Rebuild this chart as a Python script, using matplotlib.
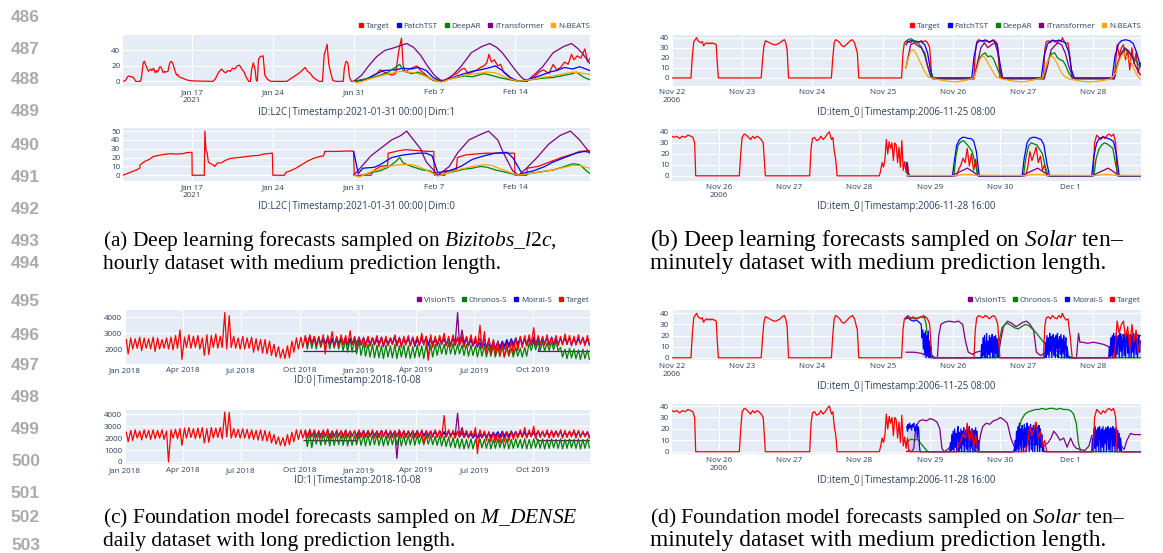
import numpy as np
import matplotlib.pyplot as plt
from matplotlib.lines import Line2D

plt.rcParams['font.family'] = ['Open Sans', 'DejaVu Sans']
plt.rcParams['mathtext.fontset'] = 'custom'
plt.rcParams['mathtext.rm'] = 'Liberation Serif'
plt.rcParams['mathtext.it'] = 'Liberation Serif:italic'

W, H = 1163, 553
BG = '#E5ECF6'
FG = '#2a3f5f'

# ---------------- data ----------------
# (a) Bizitobs_l2c, days since 2021-01-11
a_xticks = [6, 13, 20, 27, 34]
a_xlabels = ['Jan 17\n2021', 'Jan 24', 'Jan 31', 'Feb 7', 'Feb 14']

a1_target_day = [0, 0.2, 0.4, 0.5, 0.7, 0.9, 1.1, 1.5, 1.6, 1.75, 1.85, 2.0, 2.2, 2.4, 2.5, 2.65, 2.8, 2.9, 3.0, 3.2,
                 3.3, 3.5, 3.6, 3.7, 3.9, 4.05, 4.2, 4.35, 4.5, 4.65, 4.75, 4.85, 5.0, 5.2, 5.5, 5.8, 6.2, 7.8, 8.0, 8.3,
                 8.55, 8.7, 8.9, 9.1, 9.3, 9.5, 9.7, 9.9, 10.1, 10.3, 10.5, 10.7, 10.9, 11.05, 11.15, 11.3, 11.45, 11.55,
                 11.65, 11.75, 11.9, 12.15, 12.3, 12.5, 12.8, 14.2, 14.6, 15.0, 15.3, 15.6, 15.8, 16.0, 16.2, 16.5, 16.8,
                 17.0, 17.3, 17.45, 17.6, 17.7, 17.85, 18.0, 18.2, 18.5, 19.1, 19.2, 19.35, 19.5, 19.65, 19.8, 20.0,
                 20.5, 21.0, 21.5, 22.0, 22.3, 22.65, 23.0, 23.3, 23.65, 23.9, 24.15, 24.3, 24.5, 24.8, 25.15, 25.5,
                 25.8, 26.15, 26.55, 26.95, 27.3, 27.95, 28.6, 28.95, 29.3, 29.6, 29.95, 30.3, 30.7, 31.0, 31.3, 31.55,
                 31.75, 31.95, 32.2, 32.5, 32.75, 33.0, 33.3, 33.8, 34.3, 35.0, 35.6, 36.1, 36.45, 36.95, 37.3, 37.6,
                 37.95, 38.3, 38.6, 38.9, 39.1, 39.4, 39.7, 40.05, 40.3, 40.5]
a1_target_val = [0, 1, 6, 7, 6, 5, 0, 0, 5, 24, 26, 20, 13, 16, 14, 17, 11, 14, 12, 19,
                 18, 11, 13, 12, 13, 24, 26, 22, 14, 8, 9, 6, 5, 4, 2, 1, 0.5, 0, 3, 12,
                 16, 13, 11, 14, 13, 17, 16, 20, 21, 16, 12, 5, 0, 0, 15, 24, 16, 2,
                 0, 28, 32, 33, 8, 3, 0, 0, 4, 8, 11, 15, 18, 13, 11, 5, 2,
                 0, 0, 35, 42, 48, 22, 12, 1, 0, 0, 18, 26, 24, 5, 0, 0,
                 1, 2, 6, 10, 15, 12, 10, 8, 10, 38, 56, 20, 12, 16, 18, 20,
                 14, 10, 4, 1, 0, 2, 8, 10, 15, 17, 10, 12, 15, 18, 20, 24,
                 35, 25, 28, 20, 22, 12, 8, 2, 0, 0, 5, 12, 15, 10, 22, 15,
                 18, 25, 22, 35, 28, 33, 30, 42, 25, 30]
a1_patch_day = [20, 21, 22, 22.6, 23.6, 24.3, 25, 25.6, 26.3, 26.9, 27.6, 28.6, 29.6, 30.3, 31.0, 31.6, 32.3, 32.9,
                33.6, 34.3, 35.3, 36.3, 37.0, 37.6, 38.3, 39.0, 39.6, 40.5]
a1_patch_val = [0, 2, 10, 14, 15, 17, 16, 18, 14, 5, 0, 5, 10, 13, 15, 17, 20, 14, 5, 0, 3, 8, 12, 14, 18, 16, 19, 14]
a1_deepar_day = [20, 21.6, 22.3, 23, 24, 24.3, 25, 25.6, 26.3, 26.9, 27.6, 28.6, 29.6, 30.3, 31.3, 31.9, 32.6, 33.6,
                 34.3, 35.3, 36.3, 37.3, 38.3, 39.0, 39.3, 40.0, 40.5]
a1_deepar_val = [0, 5, 8, 12, 22, 14, 10, 12, 7, 2, 0, 4, 7, 6, 10, 8, 5, 2, 0, 2, 4, 5, 8, 10, 12, 5, 2]
a1_itrans_day = [20, 20.7, 21.3, 22.0, 22.7, 23.4, 24.0, 24.6, 25.2, 25.8, 26.4, 27.0, 27.5, 27.9, 28.6, 29.3, 30.2,
                 31.1, 31.8, 32.4, 32.9, 33.5, 34.0, 34.5, 35.0, 35.7, 36.4, 37.3, 38.2, 38.9, 39.4, 39.8, 40.5]
a1_itrans_val = [0, 8, 20, 32, 40, 43, 46, 49, 44, 34, 20, 8, 2, 0, 8, 19, 37, 45, 49, 44, 37, 25, 15, 6, 0, 9, 19,
                 37, 45, 49, 43, 37, 23]
a1_nbeats_day = [20, 20.3, 21.6, 22.6, 23.6, 24.3, 25.3, 26.0, 26.6, 27.3, 27.6, 28.6, 29.6, 30.6, 31.6, 32.3, 32.9,
                 33.6, 34.3, 35.3, 36.3, 37.3, 38.3, 39.0, 39.6, 40.5]
a1_nbeats_val = [0, -2, 4, 8, 12, 13, 11, 8, 4, 0, -1, 4, 8, 10, 12, 11, 7, 3, 0, 2, 5, 7, 10, 12, 11, 9]

a0_target_day = [0, 0.58, 1.16, 1.45, 1.5, 1.7, 2.0, 2.3, 2.6, 2.9, 3.5, 4.1, 4.6, 5.2, 5.5, 5.98, 6.0, 7.05, 7.1,
                 7.2, 7.3, 7.4, 7.6, 7.8, 7.95, 8.2, 8.5, 8.9, 9.3, 10.0, 10.6, 11.2, 11.8, 12.2, 12.95, 13.0, 14.0,
                 14.1, 14.5, 15.0, 15.5, 16.0, 16.5, 17.0, 17.4, 17.5, 18.5, 19.5, 20.0, 20.05, 21.5, 21.7, 22.3,
                 22.95, 23.0, 24.0, 24.5, 25.5, 26.5, 26.95, 27.0, 27.9, 28.0, 28.9, 29.0, 29.7, 30.5, 31.5, 33.0,
                 33.95, 34.0, 35.0, 35.05, 36.0, 37.0, 38.0, 39.0, 39.6, 40.5]
a0_target_val = [0, 3, 6, 8, 12, 14, 16.5, 18, 21, 22, 23.5, 24.5, 24, 24.5, 25.5, 26, 0, 0, 50,
                 28, 25, 15, 13, 12, 10, 14, 14, 17, 19, 20, 21, 22, 22.5, 24, 25, 0, 0,
                 3, 5, 8, 12, 16, 19, 21, 22, 27, 27, 27.5, 27, 0, 0, 5, 10,
                 11, 25, 28, 29, 28, 27, 27, 0, 0, 5, 6, 20, 23, 24, 25, 25,
                 25, 0, 0, 8, 10, 15, 20, 24, 27, 28]
a0_patch_day = [20, 20.4, 20.8, 21.8, 22.3, 23.3, 24.3, 25.6, 26.3, 26.8, 27.3, 28.3, 29.3, 30.3, 31.3, 32.3, 33.3,
                33.8, 34.6, 35.6, 36.6, 37.3, 38.3, 39.3, 40.0, 40.5]
a0_patch_val = [27, 2, 8, 9, 12, 20, 23, 25, 25, 22, 3, 5, 10, 18, 22, 25, 26, 20, 2, 5, 10, 15, 20, 25, 27, 26]
a0_deepar_day = [20, 20.5, 21.5, 22.3, 23.0, 23.6, 24.0, 24.3, 25.0, 26.0, 26.6, 27.3, 28.0, 29.0, 29.6, 30.3, 31.0,
                 31.6, 32.3, 33.0, 33.6, 34.3, 35.3, 36.3, 37.3, 38.3, 39.0, 39.6, 40.2, 40.5]
a0_deepar_val = [0, -1, 3, 5, 9, 15, 20, 14, 10, 6, 5, 0, 2, 5, 7, 8, 10, 9, 6, 4, 2, 0, 2, 4, 6, 10, 13, 12, 5, 2]
a0_itrans_day = [20, 20.7, 21.5, 22.3, 23.3, 24.1, 24.6, 25.2, 25.8, 26.3, 27.0, 27.3, 28.3, 29.0, 30.0, 30.8, 31.7,
                 32.5, 33.0, 33.8, 34.3, 35.0, 35.9, 36.9, 37.9, 38.8, 39.6, 40.5]
a0_itrans_val = [0, 10, 22, 30, 40, 45, 50, 40, 30, 15, 5, 0, 10, 25, 40, 45, 50, 40, 25, 5, 0, 8, 20, 35, 45, 50,
                 40, 25]
a0_nbeats_day = [20, 20.5, 21.5, 22.3, 23.0, 24.0, 25.0, 25.6, 26.3, 27.0, 27.3, 28.3, 29.3, 30.3, 31.3, 32.0, 32.6,
                 33.6, 34.3, 35.3, 36.3, 37.3, 38.3, 39.0, 39.6, 40.5]
a0_nbeats_val = [0, -2, 4, 7, 10, 12, 12, 10, 6, 1, -1, 3, 7, 10, 12, 11, 8, 3, 0, 2, 4, 6, 9, 11, 11, 8]

# (b)/(d) Solar, days since 2006-11-22 00:00
s1_xticks = [0, 1, 2, 3, 4, 5, 6]
s1_xlabels = ['Nov 22\n2006', 'Nov 23', 'Nov 24', 'Nov 25', 'Nov 26', 'Nov 27', 'Nov 28']
s2_xticks = [4, 5, 6, 7, 8, 9]
s2_xlabels = ['Nov 26\n2006', 'Nov 27', 'Nov 28', 'Nov 29', 'Nov 30', 'Dec 1']

s1_target_day = [0, 0.27, 0.29, 0.31, 0.33, 0.35, 0.37, 0.39, 0.41, 0.43, 0.45, 0.47, 0.49, 0.51, 0.53, 0.55, 0.57,
                 0.59, 0.61, 0.63, 0.645, 0.66,
                 1.27, 1.29, 1.31, 1.33, 1.36, 1.39, 1.42, 1.45, 1.48, 1.51, 1.54, 1.57, 1.60, 1.62, 1.64, 1.66,
                 2.27, 2.29, 2.31, 2.33, 2.36, 2.39, 2.42, 2.45, 2.48, 2.51, 2.54, 2.57, 2.60, 2.62, 2.64, 2.66,
                 3.27, 3.29, 3.31, 3.34, 3.37, 3.40, 3.43, 3.46, 3.49, 3.52, 3.55, 3.58, 3.61, 3.64, 3.67, 3.70,
                 4.30, 4.32, 4.34, 4.37, 4.40, 4.43, 4.46, 4.49, 4.52, 4.55, 4.58, 4.61, 4.64, 4.67,
                 5.29, 5.31, 5.33, 5.36, 5.39, 5.42, 5.45, 5.48, 5.51, 5.54, 5.56, 5.58, 5.61, 5.64, 5.67, 5.70,
                 6.30, 6.32, 6.34, 6.37, 6.40, 6.43, 6.46, 6.49, 6.52, 6.55, 6.58, 6.61, 6.64, 6.67]
s1_target_val = [0, 0, 22, 36, 38, 40, 37, 36, 35, 36, 32, 34, 35, 34, 35, 34, 35, 34, 34, 33, 15, 0,
                 0, 18, 32, 37, 36, 35, 34, 33, 33, 34, 35, 37, 38, 35, 28, 0,
                 0, 20, 35, 38, 37, 35, 32, 31, 33, 35, 37, 38, 35, 30, 25, 0,
                 0, 25, 35, 37, 36, 35, 37, 36, 35, 36, 37, 36, 37, 35, 30, 0,
                 0, 25, 36, 38, 37, 36, 38, 37, 35, 37, 38, 36, 30, 0,
                 0, 28, 36, 37, 35, 38, 36, 35, 38, 36, 40, 37, 34, 35, 20, 0,
                 0, 15, 33, 22, 30, 33, 18, 28, 8, 30, 14, 25, 5, 15]

s2_target_day = [3.333, 3.36, 3.40, 3.44, 3.48, 3.52, 3.56, 3.60, 3.63, 3.655, 3.67,
                 4.29, 4.31, 4.33, 4.36, 4.39, 4.42, 4.45, 4.48, 4.51, 4.54, 4.57, 4.60, 4.63, 4.66,
                 5.29, 5.31, 5.33, 5.36, 5.39, 5.42, 5.45, 5.48, 5.51, 5.54, 5.57, 5.60, 5.62, 5.64, 5.66, 5.68,
                 6.28, 6.30, 6.32, 6.34, 6.36, 6.38, 6.40, 6.42, 6.44, 6.46, 6.48, 6.50, 6.52, 6.54, 6.56, 6.58,
                 6.60, 6.62, 6.64, 6.66, 6.68, 6.70, 6.72,
                 7.38, 7.41, 7.44, 7.47, 7.50, 7.53, 7.56, 7.59, 7.62, 7.65, 7.68,
                 8.36, 8.39, 8.42, 8.45, 8.48, 8.51, 8.54, 8.57, 8.60, 8.63, 8.66,
                 9.32, 9.34, 9.37, 9.40, 9.43, 9.46, 9.49, 9.52, 9.55, 9.58, 9.61, 9.64, 9.66,
                 10.0]
s2_target_val = [36, 35, 36, 34, 36, 35, 37, 36, 35, 30, 0,
                 0, 20, 35, 38, 37, 35, 33, 36, 34, 36, 35, 33, 30, 0,
                 0, 25, 34, 35, 32, 33, 36, 33, 35, 38, 40, 33, 35, 22, 15, 0,
                 0, 5, 12, 8, 15, 33, 20, 31, 25, 30, 14, 30, 28, 12, 26, 8,
                 32, 5, 13, 3, 12, 0, 0,
                 0, 6, 10, 16, 12, 25, 9, 20, 5, 15, 0,
                 0, 8, 22, 14, 20, 26, 12, 18, 5, 10, 0,
                 0, 30, 37, 35, 33, 36, 34, 37, 38, 36, 38, 30, 0,
                 0]

b1_patch_day = [3.333, 3.36, 3.40, 3.45, 3.50, 3.55, 3.60, 3.64, 3.68, 3.72, 4.27, 4.30, 4.34, 4.38, 4.45, 4.52,
                4.58, 4.63, 4.67, 4.71, 5.26, 5.30, 5.35, 5.40, 5.47, 5.54, 5.60, 5.65, 5.69, 5.73, 6.27, 6.31,
                6.36, 6.40, 6.46, 6.52, 6.57, 6.62, 6.67]
b1_patch_val = [33, 36, 37, 37, 36, 36, 33, 25, 8, 0, 0, 20, 34, 37, 37, 36, 37, 34, 15, 0, 0, 22, 34, 37, 37, 37,
                35, 26, 8, 0, 0, 22, 34, 37, 38, 37, 34, 25, 12]
b1_deepar_day = [3.333, 3.36, 3.40, 3.45, 3.50, 3.55, 3.60, 3.64, 3.68, 3.72, 4.30, 4.34, 4.38, 4.42, 4.46, 4.50,
                 4.54, 4.58, 4.62, 4.66, 4.70, 5.29, 5.33, 5.37, 5.41, 5.45, 5.49, 5.53, 5.57, 5.61, 5.65, 5.70,
                 6.30, 6.34, 6.38, 6.42, 6.46, 6.50, 6.54, 6.58, 6.62, 6.67]
b1_deepar_val = [36, 38, 39, 37, 35, 31, 22, 12, 4, 0, 0, 10, 20, 23, 25, 21, 22, 19, 12, 5, 0, 0, 12, 20, 24, 25,
                 20, 18, 17, 12, 5, 0, 0, 12, 21, 25, 28, 26, 22, 20, 16, 11]
b1_itrans_day = [3.333, 3.36, 3.40, 3.45, 3.50, 3.55, 3.60, 3.64, 3.68, 3.72, 4.30, 4.35, 4.40, 4.45, 4.50, 4.55,
                 4.60, 4.64, 4.68, 4.72, 5.30, 5.35, 5.40, 5.45, 5.50, 5.55, 5.60, 5.65, 5.70, 5.74, 6.30, 6.35,
                 6.40, 6.45, 6.50, 6.55, 6.60, 6.67]
b1_itrans_val = [10, 20, 33, 35, 32, 30, 25, 12, 2, -1, -1, 15, 30, 35, 30, 33, 35, 25, 5, -1, -1, 12, 28, 32, 35,
                 33, 25, 12, 2, -1, -1, 15, 25, 30, 27, 22, 12, 3]
b1_nbeats_day = [3.333, 3.36, 3.40, 3.44, 3.48, 3.52, 3.56, 3.60, 3.65, 3.75, 3.90, 4.05, 4.20, 4.30, 4.34, 4.38,
                 4.42, 4.46, 4.50, 4.54, 4.58, 4.62, 4.70, 4.85, 5.00, 5.15, 5.28, 5.32, 5.36, 5.40, 5.44, 5.48,
                 5.52, 5.56, 5.60, 5.66, 5.80, 5.95, 6.10, 6.25, 6.32, 6.36, 6.40, 6.44, 6.48, 6.52, 6.56, 6.60,
                 6.64, 6.67]
b1_nbeats_val = [10, 18, 27, 28, 24, 18, 12, 6, 1, -1, -3, -4, -2, 0, 8, 18, 22, 20, 15, 10, 5, 1, -1, -3, -4, -2,
                 0, 10, 18, 22, 20, 15, 9, 4, 1, -1, -3, -4, -3, -1, 5, 15, 22, 25, 20, 18, 12, 6, 1, -1]

b2_patch_day = [6.667, 6.69, 6.72, 7.32, 7.35, 7.38, 7.42, 7.46, 7.50, 7.54, 7.58, 7.62, 7.66, 7.70, 8.31, 8.34,
                8.38, 8.42, 8.46, 8.50, 8.54, 8.58, 8.62, 8.66, 8.70, 9.30, 9.33, 9.37, 9.41, 9.45, 9.49, 9.53,
                9.57, 9.61, 9.65, 9.69, 10.0]
b2_patch_val = [12, 2, 0, 0, 15, 28, 33, 35, 35, 34, 34, 32, 22, 0, 0, 16, 30, 34, 35, 35, 34, 33, 28, 12, 0, 0,
                18, 30, 34, 35, 35, 34, 33, 31, 20, 0, 0]
b2_deepar_day = [6.667, 6.70, 7.34, 7.37, 7.40, 7.44, 7.48, 7.52, 7.56, 7.60, 7.64, 7.68, 8.33, 8.36, 8.40, 8.44,
                 8.48, 8.52, 8.56, 8.60, 8.64, 8.68, 9.33, 9.36, 9.40, 9.44, 9.48, 9.52, 9.56, 9.60, 9.64, 9.68, 10.0]
b2_deepar_val = [3, 0, 0, 18, 28, 31, 32, 29, 26, 22, 12, 0, 0, 15, 27, 30, 29, 28, 24, 20, 8, 0, 0, 15, 24, 28, 30,
                 29, 27, 25, 10, 0, 0]
b2_itrans_day = [6.667, 7.30, 7.40, 7.50, 7.53, 7.58, 7.65, 7.70, 8.30, 8.40, 8.50, 8.53, 8.58, 8.65, 8.70, 9.30,
                 9.40, 9.50, 9.53, 9.58, 9.65, 9.70, 10.0]
b2_itrans_val = [0, 0, 3, 6, 7, 5, 2, 0, 0, 3, 6, 7, 5, 2, 0, 0, 3, 6, 7, 5, 2, 0, 0]
b2_nbeats_day = [6.667, 7.35, 7.45, 7.55, 7.65, 8.35, 8.45, 8.55, 8.65, 9.35, 9.45, 9.55, 9.65, 10.0]
b2_nbeats_val = [0.3, 0.3, 1, 1.2, 0.5, 0.3, 1, 1.2, 0.5, 0.3, 1, 1.2, 0.5, 0.3]

d1_chronos_day = [3.333, 3.36, 3.40, 3.45, 3.50, 3.55, 3.59, 3.62, 3.65, 3.68, 3.72, 4.62, 4.66, 4.70, 4.74, 4.78,
                  4.83, 4.88, 4.93, 4.98, 5.03, 5.08, 5.13, 5.18, 5.23, 5.28, 5.33, 5.38, 5.43, 5.48, 5.53, 6.68]
d1_chronos_val = [36, 38, 36, 35, 36, 37, 38, 30, 12, 3, 0, 0, 15, 27, 30, 31, 29, 27, 26, 28, 30, 29, 26, 23, 19,
                  15, 12, 8, 5, 2, 0, 0]
d1_moirai_day = [3.333, 3.36, 3.40, 3.44, 3.48, 3.52, 3.55]
d1_moirai_val = [35, 36, 34, 33, 34, 32, 30]
d1_burst_start = [3.56, 4.40, 5.31, 6.22]
d1_burst_vals = [
    [18, 25, 8, 22, 3, 24, 0, 20, 2, 24, 0, 15, 0, 10, 0, 2, 0],
    [0, 12, 0, 18, 2, 20, 0, 8, 22, 0, 15, 3, 20, 0, 18, 5, 21, 0, 12, 19, 0, 20, 4, 17, 0, 10, 0],
    [0, 14, 0, 20, 3, 18, 0, 22, 6, 19, 0, 16, 21, 2, 18, 0, 20, 8, 22, 0, 15, 19, 3, 21, 0, 17, 5, 20, 0, 12,
     18, 0, 10, 2, 0],
    [0, 10, 0, 18, 2, 20, 0, 22, 5, 19, 0, 21, 3, 18, 20, 0, 22, 6, 19, 0, 16, 21, 2, 20, 0, 18, 22, 4, 20, 0,
     17, 21, 0, 19, 5, 22, 0, 18, 20, 3, 21, 0, 16, 20, 5, 15],
]
d1_vision_day = [3.333, 3.45, 3.55, 3.62, 3.70, 3.78, 3.80, 3.83, 3.88, 3.95, 4.02, 4.08, 4.14, 4.18, 4.22, 4.28,
                 4.33, 4.40, 4.48, 4.56, 4.62, 4.65, 4.68, 4.72, 4.78, 4.84, 4.90, 4.95, 5.00, 5.05, 5.10, 5.15,
                 5.19, 5.25, 5.32, 5.40, 5.48, 5.55, 5.62, 5.70, 5.76, 5.79, 5.81, 5.85, 5.92, 6.00, 6.08, 6.15,
                 6.22, 6.28, 6.33, 6.38, 6.45, 6.52, 6.60, 6.67]
d1_vision_val = [5, 5, 4, 2, 1, 0, 20, 30, 32, 33, 32, 33, 30, 15, 5, 3, 5, 6, 7, 6, 6, 2, 15, 28, 33, 31, 28, 30,
                 32, 33, 30, 25, 5, 2, 5, 7, 6, 5, 2, 0, 0, 22, 14, 14, 13, 14, 13, 12, 10, 5, 15, 20, 21, 20,
                 21, 20]

d2_chronos_day = [6.667, 6.70, 6.74, 6.78, 6.82, 6.86, 6.90, 6.94, 6.97, 8.18, 8.22, 8.26, 8.30, 8.35, 8.40, 8.45,
                  8.50, 8.55, 8.60, 8.65, 8.70, 8.75, 8.80, 8.85, 8.90, 8.95, 9.00, 9.04, 9.08, 9.11, 9.14, 10.0]
d2_chronos_val = [8, 10, 11, 10, 11, 8, 5, 2, 0, 0, 5, 18, 28, 33, 35, 36, 37, 37, 38, 37, 38, 38, 37, 38, 37, 37,
                  36, 33, 25, 8, 0, 0]
d2_burst_start = [6.67, 7.28, 8.20, 9.30]
d2_burst_vals = [
    [22, 18, 24, 20, 25, 21, 23, 19, 24, 22, 25, 20, 18, 22, 24, 12, 22, 20, 5, 0],
    [0, 8, 0, 15, 2, 18, 0, 20, 4, 16, 0, 19, 22, 0, 17, 3, 20, 0, 18, 6, 21, 0, 15, 19, 2, 20, 0, 17, 22, 0,
     18, 5, 20, 0, 16, 19, 0, 21, 3, 18, 0, 10, 0],
    [0, 10, 0, 18, 3, 22, 0, 25, 5, 20, 0, 23, 18, 0, 24, 4, 21, 0, 25, 8, 22, 0, 19, 24, 2, 21, 0, 23, 20, 0,
     25, 6, 22, 0, 18, 23, 0, 20, 4, 15, 0, 8, 0],
    [0, 12, 0, 20, 3, 22, 0, 19, 5, 21, 0, 22, 18, 0, 20, 4, 22, 0, 19, 7, 21, 0, 18, 22, 2, 20, 0, 21, 19, 0,
     22, 5, 20, 0, 17, 21, 0, 19, 3, 16, 0, 12, 2, 0],
]
d2_moirai_end_day = [10.0]
d2_moirai_end_val = [0]
d2_vision_day = [6.667, 6.70, 6.74, 6.77, 6.80, 6.85, 6.90, 6.95, 7.00, 7.05, 7.10, 7.14, 7.17, 7.20, 7.25, 7.30,
                 7.35, 7.40, 7.45, 7.50, 7.56, 7.62, 7.68, 7.72, 7.75, 7.80, 7.85, 7.90, 7.95, 8.00, 8.05, 8.10,
                 8.15, 8.20, 8.25, 8.32, 8.40, 8.48, 8.55, 8.62, 8.68, 8.72, 8.76, 8.80, 8.85, 8.90, 8.95, 9.00,
                 9.04, 9.08, 9.14, 9.20, 9.26, 9.30, 9.38, 9.46, 9.54, 9.62, 9.68, 9.72, 9.76, 9.80, 9.85, 9.90,
                 9.95, 10.0]
d2_vision_val = [0, 1, 0, 3, 22, 27, 28, 27, 29, 28, 26, 20, 3, 0, 2, 5, 7, 6, 7, 5, 5, 2, 0, 15, 22, 25, 24, 27,
                 28, 30, 28, 25, 12, 4, 2, 5, 7, 6, 7, 5, 8, 12, 18, 15, 10, 12, 4, 12, 6, 3, 2, 1, 5, 14, 15, 14,
                 13, 14, 12, 5, 2, 10, 16, 15, 15, 15]

# (c) M_DENSE daily, days since 2018-01-01; weekly highs / lows
c_xticks = [0, 90, 181, 273, 365, 455, 546, 638]
c_xlabels = ['Jan 2018', 'Apr 2018', 'Jul 2018', 'Oct 2018', 'Jan 2019', 'Apr 2019', 'Jul 2019', 'Oct 2019']
c_forecast_week = 40
c_vision_week = 52

c0_target_hi = [2600, 2700, 2650, 2750, 2700, 2650, 2750, 2700, 2600, 2700, 2750, 2850, 3200,
                2750, 2900, 2800, 2850, 2700, 2900, 2850, 2950, 2800, 4300, 4100, 2800, 2700,
                2800, 2700, 2750, 2650, 2600, 2600, 2500, 2300, 2150, 2000, 2200, 2500, 2700, 2750,
                2850, 2900, 2800, 2750, 2900, 2850, 3100, 2800, 2900, 2850, 3150, 2800, 2750,
                2750, 2800, 2700, 2850, 2750, 2800, 2700, 2900, 2750, 2800, 2850, 2700,
                2800, 3000, 2750, 2900, 2800, 2850, 3000, 2800, 2900, 2750, 2850, 2800, 2900,
                2800, 3500, 3100, 2700, 2600, 2500, 2400, 2300, 2500, 2700, 2800, 2850, 2900,
                3350, 2850, 2800, 2900, 2750, 2850, 2800, 2950, 2850, 2800, 2900, 2750, 2850]
c0_target_lo = [1700, 2000, 2050, 1900, 2050, 2000, 1850, 2000, 2050, 2000, 1950, 2050, 1350,
                2100, 2050, 2100, 2000, 1600, 1650, 2100, 2050, 2100, 2000, 2100, 2050, 2000,
                2000, 2050, 1800, 1900, 1750, 1700, 1600, 1500, 1450, 1400, 1450, 1800, 2000, 2100,
                2200, 2300, 2250, 2200, 1700, 2300, 2200, 2150, 2250, 2200, 2300, 2200, 2250,
                2100, 2200, 2300, 2150, 2250, 2200, 2300, 2200, 2100, 2250, 2200, 2300,
                2200, 2250, 1300, 2100, 2200, 2300, 2200, 2150, 2250, 2200, 2100, 2200, 2250,
                2100, 2000, 1800, 1700, 1600, 1550, 1500, 1600, 1700, 1900, 2100, 2200, 2250,
                2200, 2300, 2250, 2200, 2300, 2200, 2250, 2300, 2200, 2250, 2300, 2200, 2300]
c0_vision_flat = 1850
c0_vision_flat_days = [280, 361, 646, 727]
c0_vision_hi = [2700, 2650, 2750, 2700, 2600, 2750, 2700, 2650, 2800, 2700, 2650, 2750, 2700, 2600, 2750, 2800,
                2700, 2650, 2750, 2700, 2650, 2800, 4300, 3200, 2750, 2700, 2650, 2700, 2650, 2600, 2550, 2500,
                2450, 2500, 2600, 2650, 2700, 2650, 2700, 2650, 2700]
c0_vision_lo = [2250, 2300, 2200, 2250, 2300, 2150, 2250, 2300, 2200, 2250, 2300, 2200, 2150, 2250, 2300, 2200,
                2250, 2200, 2300, 2250, 2200, 2250, 2300, 2400, 2250, 2200, 2150, 2200, 2100, 2050, 2000, 1950,
                2000, 2100, 2150, 2200, 2250, 2200, 2250, 2200, 2250]
c0_chronos_hi = [2800, 2800, 2750, 2800, 2700, 2750, 2700, 2650, 2650, 2600, 2700, 2650, 2500, 2400, 2300, 2300,
                 2250, 2200, 2250, 2200, 2300, 2200, 2250, 2200, 2150, 2250, 2200, 2300, 2250, 2300, 2350, 2300,
                 2400, 2350, 2300, 2250, 2300, 2250, 2200, 2250, 2200, 2150, 2200, 2100, 2150, 2100, 2050, 2100,
                 2050, 2100, 2400, 2500, 2450, 2500, 2400, 2450, 2500, 2100, 2000, 2050, 2000, 1950, 2000, 1950]
c0_chronos_lo = [2000, 2050, 2000, 2100, 1950, 2000, 2050, 2000, 1900, 1800, 1800, 1700, 1600, 1550, 1500, 1450,
                 1450, 1400, 1500, 1450, 1400, 1500, 1450, 1400, 1450, 1500, 1400, 1450, 1500, 1600, 1700, 1650,
                 1700, 1650, 1700, 1600, 1550, 1600, 1500, 1550, 1500, 1550, 1500, 1550, 1500, 1550, 1500, 1550,
                 1500, 1550, 1900, 1950, 1900, 1850, 1900, 1950, 1900, 1500, 1400, 1450, 1400, 1350, 1400, 1350]
c0_moirai_hi = [2750, 2800, 2750, 2700, 2750, 2700, 2650, 2700, 2750, 2700, 2650, 2700, 2750, 2700, 2650, 2700,
                2750, 2700, 2650, 2700, 2750, 2700, 2650, 2700, 2750, 2700, 2650, 2700, 2750, 2700, 2650, 2700,
                2650, 2700, 2650, 2600, 2650, 2600, 2500, 2400, 2350, 2300, 2350, 2400, 2500, 2600, 2650, 2700,
                2700, 2650, 2700, 2750, 2700, 2650, 2700, 2750, 2700, 2650, 2700, 2750, 2700, 2650, 2700, 2650]
c0_moirai_lo = [2300, 2350, 2250, 2300, 2350, 2300, 2250, 2350, 2300, 2250, 2300, 2350, 2300, 2250, 2300, 2350,
                2300, 2250, 2300, 2350, 2300, 2250, 2350, 2300, 2250, 2300, 2350, 2300, 2250, 2300, 2350, 2300,
                2300, 2250, 2300, 2250, 2200, 2200, 2150, 2100, 2100, 2050, 2100, 2150, 2200, 2250, 2300, 2300,
                2300, 2350, 2300, 2250, 2300, 2350, 2300, 2250, 2300, 2350, 2300, 2250, 2300, 2350, 2300, 2250]

c1_target_hi = [2500, 2650, 2700, 2600, 2700, 2650, 2700, 2650, 2700, 2600, 2700, 2750, 2800,
                2850, 2900, 2800, 2850, 2900, 2800, 2900, 2850, 2900, 4200, 4150, 2800, 2750,
                2800, 2750, 2700, 2650, 2700, 2650, 2550, 2300, 2100, 2050, 2300, 2500, 2700, 2700,
                2700, 2750, 2700, 2650, 2700, 2750, 2600, 2700, 2650, 2700, 2600, 2650, 2700,
                2600, 2650, 2700, 2600, 2650, 2700, 2650, 2600, 2700, 2650, 2600, 2650,
                2600, 2700, 2650, 2600, 2700, 2650, 3900, 2700, 2650, 2600, 2700, 2650, 2600,
                2900, 2700, 2600, 2550, 2500, 2400, 2450, 2500, 2600, 2550, 2700, 2900, 2700,
                3000, 2650, 2600, 2700, 2650, 2600, 2700, 2650, 2600, 2700, 2650, 2600, 2500]
c1_target_lo = [1700, 1800, 2000, 1850, 2000, 1900, 1950, 2000, 1900, 0, 2000, 1950, 1400,
                2000, 2050, 1950, 2000, 1600, 1650, 2000, 2050, 1950, 2100, 2000, 2050, 2000,
                2000, 1950, 1900, 1850, 1800, 1750, 1600, 1500, 1400, 1350, 1450, 1700, 1900, 2000,
                2000, 2100, 2050, 2000, 2100, 1900, 2050, 2100, 2000, 2050, 2100, 2000, 2050,
                2050, 2100, 2000, 2050, 2100, 2000, 2050, 2100, 2000, 2050, 2100, 2000,
                2050, 1500, 2000, 2100, 2050, 2000, 2100, 2050, 2000, 2100, 2050, 2000, 2100,
                700, 2000, 1800, 1700, 1650, 1600, 1700, 1750, 1900, 2000, 2050, 2000, 2100,
                2000, 2050, 2100, 2000, 2050, 2100, 2000, 2050, 2100, 2000, 2050, 2100, 2000]
c1_vision_flat = 1800
c1_vision_flat_days = [280, 363, 645, 727]
c1_vision_hi = [2550, 2500, 2600, 2550, 2500, 2600, 2550, 2500, 2600, 2550, 2500, 2600, 2550, 2500, 2600, 2550,
                2500, 2600, 2550, 2500, 2600, 2550, 4100, 2900, 2600, 2550, 2500, 2600, 2550, 2500, 2450, 2400,
                2450, 2500, 2550, 2500, 2550, 2500, 2550, 2500]
c1_vision_lo = [2150, 2100, 2200, 2150, 2100, 2200, 2150, 2100, 300, 2150, 2100, 2200, 2150, 2100, 2200, 2150,
                2100, 2200, 2150, 2100, 2200, 2150, 2200, 2250, 2150, 2100, 2050, 2100, 2050, 2000, 1950, 2000,
                2050, 2100, 2150, 2100, 2150, 2100, 2150, 2100]
c1_chronos_hi = [2500, 2450, 2400, 2450, 2400, 2350, 2400, 2350, 2300, 2350, 2300, 2250, 2300, 2250, 2300, 2250,
                 2300, 2250, 2200, 2250, 2300, 2250, 2200, 2250, 2300, 2250, 2200, 2250, 2200, 2150, 2200, 2150,
                 2100, 2050, 2000, 1950, 1900, 1950, 1900, 1950, 1900, 1950, 1900, 1950, 1900, 1950, 1900, 1950,
                 1900, 1950, 1900, 1950, 1900, 1950, 1900, 1950, 1900, 1950, 1900, 1950, 1900, 1950, 1900, 1950]
c1_chronos_lo = [1300, 1200, 1500, 1400, 1450, 1350, 1400, 1450, 1400, 1350, 1400, 1450, 1400, 1350, 1400, 1450,
                 1400, 1350, 1400, 1450, 1400, 1350, 1400, 1450, 1400, 1500, 1450, 1500, 1450, 1400, 1350, 1300,
                 1250, 1200, 1150, 1100, 1150, 1100, 1150, 1200, 1150, 1100, 1150, 1200, 1150, 1100, 1150, 1200,
                 1150, 1100, 1150, 1200, 1150, 1100, 1150, 1200, 1150, 1100, 1150, 1200, 1150, 1100, 1150, 1200]
c1_moirai_hi = [2600, 2650, 2600, 2550, 2600, 2650, 2600, 2550, 2600, 2650, 2600, 2550, 2600, 2650, 2600, 2550,
                2600, 2650, 2600, 2550, 2600, 2650, 2600, 2550, 2600, 2650, 2600, 2550, 2600, 2650, 2600, 2550,
                2600, 2550, 2500, 2450, 2400, 2350, 2300, 2300, 2350, 2400, 2500, 2550, 2600, 2550, 2600, 2550,
                2600, 2550, 2500, 2550, 2600, 2550, 2500, 2550, 2600, 2550, 2500, 2550, 2600, 2550, 2500, 2550]
c1_moirai_lo = [2200, 2150, 2200, 2250, 2200, 2150, 2200, 2250, 2200, 2150, 2200, 2250, 2200, 2150, 2200, 2250,
                2200, 2150, 2200, 2250, 2200, 2150, 2200, 2250, 2200, 2150, 2200, 2250, 2200, 2150, 2200, 2250,
                2200, 2150, 2100, 2050, 2050, 2000, 2000, 2050, 2100, 2150, 2200, 2150, 2200, 2150, 2200, 2150,
                2200, 2150, 2200, 2250, 2200, 2150, 2200, 2250, 2200, 2150, 2200, 2250, 2200, 2150, 2200, 2150]

dl_names = ['Target', 'PatchTST', 'DeepAR', 'iTransformer', 'N-BEATS']
dl_colors = ['red', 'blue', 'green', 'purple', 'orange']
fm_names = ['VisionTS', 'Chronos-S', 'Moirai-S', 'Target']
fm_colors = ['purple', 'green', 'blue', 'red']

titles = {
    'a1': 'ID:L2C|Timestamp:2021-01-31 00:00|Dim:1',
    'a0': 'ID:L2C|Timestamp:2021-01-31 00:00|Dim:0',
    'b1': 'ID:item_0|Timestamp:2006-11-25 08:00',
    'b2': 'ID:item_0|Timestamp:2006-11-28 16:00',
    'c0': 'ID:0|Timestamp:2018-10-08',
    'c1': 'ID:1|Timestamp:2018-10-08',
}
# x, y, font size, text
captions = [
    (103, 241, 15.5, r'(a) Deep learning forecasts sampled on $\mathit{Bizitobs\_l2c}$,'),
    (103, 264, 15.5, 'hourly dataset with medium prediction length.'),
    (650, 241, 16.9, r'(b) Deep learning forecasts sampled on $\mathit{Solar}$ ten–'),
    (650, 264, 16.9, 'minutely dataset with medium prediction length.'),
    (103, 518, 15.5, r'(c) Foundation model forecasts sampled on $\mathit{M\_DENSE}$'),
    (103, 541, 15.5, 'daily dataset with long prediction length.'),
    (650, 518, 15.7, r'(d) Foundation model forecasts sampled on $\mathit{Solar}$ ten–'),
    (650, 541, 16.9, 'minutely dataset with medium prediction length.'),
]
line_numbers = list(range(486, 504))
line_y = [18, 49, 80, 112, 145, 177, 209, 241, 264, 302, 335, 366, 398, 430, 462, 494, 518, 545]


# ---------------- helpers ----------------
def weekly(first_week, hi, lo):
    day, val = [], []
    for i in range(len(hi)):
        w = first_week + i
        day += [7 * w + 2, 7 * w + 5]
        val += [hi[i], lo[i]]
    return day, val


def bursts(starts, blocks, step=0.01):
    day, val = [], []
    for s, b in zip(starts, blocks):
        day += list(s + step * np.arange(len(b)))
        val += list(b)
    return day, val


def vision(flat, flat_days, hi, lo):
    d, v = weekly(c_vision_week, hi, lo)
    return flat_days[:2] + d + flat_days[2:], [flat, flat] + v + [flat, flat]


fig = plt.figure(figsize=(W / 100, H / 100), dpi=100)


def px(x0, y0, x1, y1):
    return [x0 / W, 1 - y1 / H, (x1 - x0) / W, (y1 - y0) / H]


def panel(rect, series, xlim, ylim, yticks, xticks, xlabels, vgrid, title, title_y):
    ax = fig.add_axes(px(*rect))
    ax.set_facecolor(BG)
    for (d, v), c in series:
        ax.plot(d, v, color=c, lw=0.9)
    ax.set_xlim(xlim)
    ax.set_ylim(ylim)
    ax.set_yticks(yticks)
    ax.set_yticklabels([str(t) for t in yticks])
    ax.set_xticks(xticks)
    ax.set_xticklabels(xlabels, linespacing=1.15)
    ax.tick_params(length=0, labelsize=5.8, labelcolor=FG, pad=2)
    for s in ax.spines.values():
        s.set_visible(False)
    ax.grid(axis='y', color='white', lw=0.8)
    ax.grid(axis='x', color='white', lw=0.8, visible=vgrid)
    ax.set_axisbelow(True)
    fig.text((rect[0] + rect[2]) / 2 / W, 1 - title_y / H, title, ha='center', va='center',
             fontsize=6.9, color=FG)
    return ax


def legend(names, colors, right, y):
    handles = [Line2D([], [], ls='none', marker='s', ms=2.2, color=c) for c in colors]
    fig.legend(handles, names, loc='center right', bbox_to_anchor=(right / W, 1 - y / H),
               ncol=len(names), frameon=False, fontsize=5.8, labelcolor=FG,
               handlelength=0.5, handletextpad=0.35, columnspacing=0.9,
               borderpad=0, borderaxespad=0)


# ---------------- (a) ----------------
panel((123, 35, 590, 86),
      [((a1_target_day, a1_target_val), 'red'), ((a1_patch_day, a1_patch_val), 'blue'),
       ((a1_deepar_day, a1_deepar_val), 'green'), ((a1_itrans_day, a1_itrans_val), 'purple'),
       ((a1_nbeats_day, a1_nbeats_val), 'orange')],
      (0, 40.5), (-6, 60), [0, 20, 40], a_xticks, a_xlabels, False, titles['a1'], 112)
panel((123, 128, 590, 181),
      [((a0_target_day, a0_target_val), 'red'), ((a0_patch_day, a0_patch_val), 'blue'),
       ((a0_deepar_day, a0_deepar_val), 'green'), ((a0_itrans_day, a0_itrans_val), 'purple'),
       ((a0_nbeats_day, a0_nbeats_val), 'orange')],
      (0, 40.5), (-6.5, 53.5), [0, 10, 20, 30, 40, 50], a_xticks, a_xlabels, True, titles['a0'], 207)
legend(dl_names, dl_colors, 590, 26)

# ---------------- (b) ----------------
panel((672, 35, 1141, 86),
      [((s1_target_day, s1_target_val), 'red'), ((b1_patch_day, b1_patch_val), 'blue'),
       ((b1_deepar_day, b1_deepar_val), 'green'), ((b1_itrans_day, b1_itrans_val), 'purple'),
       ((b1_nbeats_day, b1_nbeats_val), 'orange')],
      (0, 6.68), (-8, 42.7), [0, 10, 20, 30, 40], s1_xticks, s1_xlabels, False, titles['b1'], 112)
panel((672, 129, 1141, 181),
      [((s2_target_day, s2_target_val), 'red'), ((b2_patch_day, b2_patch_val), 'blue'),
       ((b2_deepar_day, b2_deepar_val), 'green'), ((b2_itrans_day, b2_itrans_val), 'purple'),
       ((b2_nbeats_day, b2_nbeats_val), 'orange')],
      (3.333, 10.0), (-4.7, 42.6), [0, 10, 20, 30, 40], s2_xticks, s2_xlabels, True, titles['b2'], 207)
legend(dl_names, dl_colors, 1141, 26)

# ---------------- (c) ----------------
panel((125, 310, 590, 364),
      [(vision(c0_vision_flat, c0_vision_flat_days, c0_vision_hi, c0_vision_lo), 'purple'),
       (weekly(c_forecast_week, c0_chronos_hi, c0_chronos_lo), 'green'),
       (weekly(c_forecast_week, c0_moirai_hi, c0_moirai_lo), 'blue'),
       (weekly(0, c0_target_hi, c0_target_lo), 'red')],
      (0, 727), (1060, 4460), [2000, 3000, 4000], c_xticks, c_xlabels, False, titles['c0'], 380)
panel((125, 410, 590, 464),
      [(vision(c1_vision_flat, c1_vision_flat_days, c1_vision_hi, c1_vision_lo), 'purple'),
       (weekly(c_forecast_week, c1_chronos_hi, c1_chronos_lo), 'green'),
       (weekly(c_forecast_week, c1_moirai_hi, c1_moirai_lo), 'blue'),
       (weekly(0, c1_target_hi, c1_target_lo), 'red')],
      (0, 727), (-170, 4370), [0, 1000, 2000, 3000, 4000], c_xticks, c_xlabels, True, titles['c1'], 481)
legend(fm_names, fm_colors, 590, 300)

# ---------------- (d) ----------------
d1_bd, d1_bv = bursts(d1_burst_start, d1_burst_vals)
ax_d1 = panel((672, 310, 1141, 360),
              [((d1_vision_day, d1_vision_val), 'purple'), ((d1_chronos_day, d1_chronos_val), 'green'),
               ((d1_moirai_day + d1_bd, d1_moirai_val + d1_bv), 'blue'),
               ((s1_target_day, s1_target_val), 'red')],
              (0, 6.68), (-2, 43), [0, 10, 20, 30, 40], s1_xticks, s1_xlabels, False, titles['b1'], 387)
ax_d1.fill_between(d1_bd, 0, d1_bv, color='blue', alpha=0.12, lw=0, zorder=1)
d2_bd, d2_bv = bursts(d2_burst_start, d2_burst_vals)
ax_d2 = panel((672, 404, 1141, 454),
              [((d2_vision_day, d2_vision_val), 'purple'), ((d2_chronos_day, d2_chronos_val), 'green'),
               ((d2_bd + d2_moirai_end_day, d2_bv + d2_moirai_end_val), 'blue'),
               ((s2_target_day, s2_target_val), 'red')],
              (3.333, 10.0), (-2, 41.8), [0, 10, 20, 30, 40], s2_xticks, s2_xlabels, True, titles['b2'], 481)
ax_d2.fill_between(d2_bd, 0, d2_bv, color='blue', alpha=0.12, lw=0, zorder=1)
legend(fm_names, fm_colors, 1141, 300)

# ---------------- page text ----------------
for n, y in zip(line_numbers, line_y):
    fig.text(40 / W, 1 - y / H, str(n), ha='right', va='center', fontsize=12.5, weight='bold',
             color='#aaaaaa', family='Liberation Sans')

for x, y, size, s in captions:
    fig.text(x / W, 1 - (y + 5) / H, s, ha='left', va='baseline', fontsize=size,
             family='Liberation Serif', color='black')

fig.savefig('out.png', dpi=100)
